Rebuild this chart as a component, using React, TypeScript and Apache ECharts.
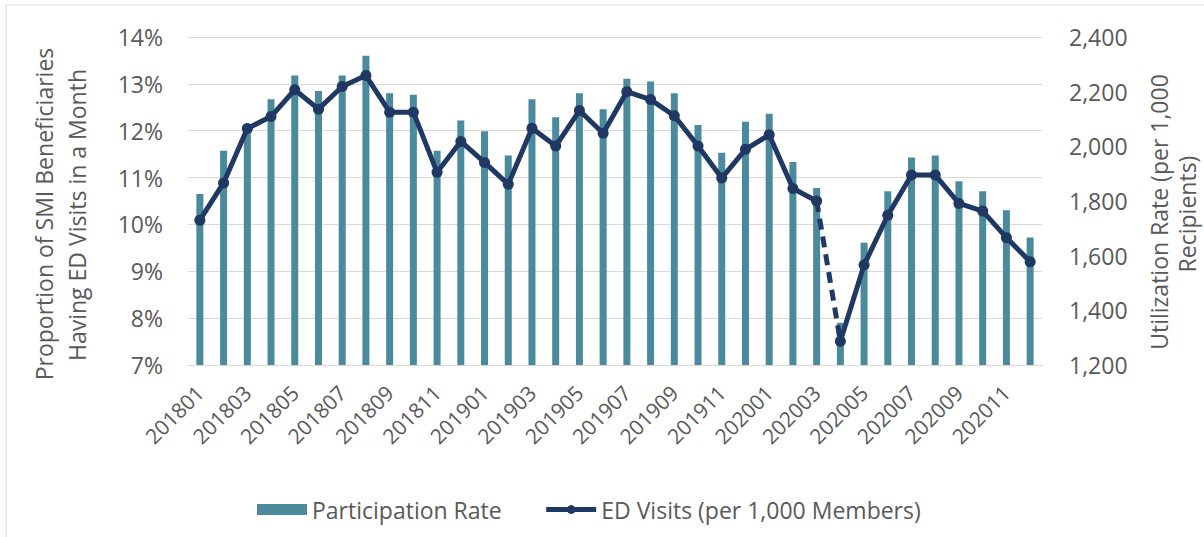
import React, { useEffect, useRef } from "react";
import * as echarts from "echarts";

const months: string[] = [
  "201801","201802","201803","201804","201805","201806","201807","201808","201809","201810","201811","201812",
  "201901","201902","201903","201904","201905","201906","201907","201908","201909","201910","201911","201912",
  "202001","202002","202003","202004","202005","202006","202007","202008","202009","202010","202011","202012",
];

const participationRate: number[] = [
  10.65, 11.57, 12.05, 12.67, 13.18, 12.85, 13.18, 13.6, 12.8, 12.77, 11.57, 12.22,
  11.99, 11.47, 12.67, 12.29, 12.8, 12.46, 13.11, 13.05, 12.8, 12.12, 11.53, 12.19,
  12.36, 11.33, 10.78, 7.9, 9.61, 10.71, 11.43, 11.47, 10.92, 10.71, 10.3, 9.72,
];

const edVisits: number[] = [
  1730, 1866, 2065, 2109, 2207, 2136, 2219, 2259, 2125, 2125, 1905, 2018,
  1941, 1861, 2066, 2001, 2131, 2048, 2200, 2171, 2112, 2001, 1884, 1989,
  2042, 1846, 1800, 1287, 1566, 1748, 1895, 1895, 1791, 1763, 1666, 1578,
];

const leftTicks = { min: 7, max: 14, interval: 1 };
const rightTicks = { min: 1200, max: 2400, interval: 200 };

const BAR_NAME = "Participation Rate";
const LINE_NAME = "ED Visits (per 1,000 Members)";
const GAP_START = 26; // index of 202003
const GAP_END = 27; // index of 202004

const BAR_COLOR = "#4A8A9C";
const LINE_COLOR = "#1F3864";
const TEXT_COLOR = "#595959";
const FONT = "'Open Sans', 'Noto Sans', sans-serif";
const FS = 23;

export default function App() {
  const ref = useRef<HTMLDivElement>(null);

  useEffect(() => {
    if (!ref.current) return;
    const chart = echarts.init(ref.current, undefined, { renderer: "svg" });

    const before = edVisits.map((v, i) => (i <= GAP_START ? v : null));
    const gap = edVisits.map((v, i) => (i === GAP_START || i === GAP_END ? v : null));
    const after = edVisits.map((v, i) => (i >= GAP_END ? v : null));

    const lineBase = {
      type: "line" as const,
      name: LINE_NAME,
      yAxisIndex: 1,
      color: LINE_COLOR,
      symbol: "circle",
      symbolSize: 11,
      connectNulls: false,
      z: 5,
    };

    const nameText = (text: string, x: number, y: number) => ({
      type: "text",
      x,
      y,
      rotation: Math.PI / 2,
      style: {
        text,
        fill: TEXT_COLOR,
        fontSize: FS,
        fontFamily: FONT,
        align: "center",
        verticalAlign: "middle",
      },
    });

    chart.setOption({
      animation: false,
      backgroundColor: "#ffffff",
      textStyle: { fontFamily: FONT },
      grid: { left: 188, right: 162, top: 37, bottom: 172 },
      legend: {
        left: 252,
        top: 493,
        itemWidth: 50,
        itemHeight: 11,
        itemGap: 42,
        textStyle: { fontSize: FS, color: TEXT_COLOR, fontFamily: FONT },
        data: [
          { name: BAR_NAME, icon: "rect" },
          { name: LINE_NAME, lineStyle: { width: 5, color: LINE_COLOR } },
        ],
      },
      xAxis: {
        type: "category",
        data: months,
        axisLine: { lineStyle: { color: "#d9d9d9", width: 1 } },
        axisTick: { show: false },
        axisLabel: {
          interval: 1,
          rotate: 45,
          margin: 24,
          fontSize: 21,
          color: TEXT_COLOR,
          fontFamily: FONT,
        },
      },
      yAxis: [
        {
          type: "value",
          min: leftTicks.min,
          max: leftTicks.max,
          interval: leftTicks.interval,
          axisLine: { show: false },
          axisTick: { show: false },
          splitLine: { lineStyle: { color: "#d9d9d9", width: 1 } },
          axisLabel: {
            formatter: "{value}%",
            margin: 25,
            fontSize: FS,
            color: TEXT_COLOR,
            fontFamily: FONT,
          },
        },
        {
          type: "value",
          min: rightTicks.min,
          max: rightTicks.max,
          interval: rightTicks.interval,
          axisLine: { show: false },
          axisTick: { show: false },
          splitLine: { show: false },
          axisLabel: {
            formatter: (v: number) => v.toLocaleString("en-US"),
            margin: 27,
            fontSize: FS,
            color: TEXT_COLOR,
            fontFamily: FONT,
          },
        },
      ],
      series: [
        {
          type: "bar",
          name: BAR_NAME,
          data: participationRate,
          yAxisIndex: 0,
          barWidth: 7,
          itemStyle: { color: BAR_COLOR },
          z: 2,
        },
        {
          ...lineBase,
          data: before,
          lineStyle: { width: 5, color: LINE_COLOR },
        },
        {
          ...lineBase,
          data: gap,
          symbol: "none",
          lineStyle: { width: 5, color: LINE_COLOR, type: [11, 7] },
          z: 4,
        },
        {
          ...lineBase,
          data: after,
          lineStyle: { width: 5, color: LINE_COLOR },
        },
      ],
      graphic: [
        {
          type: "rect",
          shape: { x: 6, y: 5, width: 1210, height: 545 },
          style: { fill: "none", stroke: "#d9d9d9", lineWidth: 1 },
          silent: true,
        },
        nameText("Proportion of SMI Beneficiaries", 44, 214),
        nameText("Having ED Visits in a Month", 77, 215),
        nameText("Utilization Rate (per 1,000", 1159, 212),
        nameText("Recipients)", 1187, 214),
      ],
    });

    return () => chart.dispose();
  }, []);

  return (
    <div
      ref={ref}
      style={{ position: "fixed", left: 0, top: 0, width: 1204, height: 537 }}
    />
  );
}
